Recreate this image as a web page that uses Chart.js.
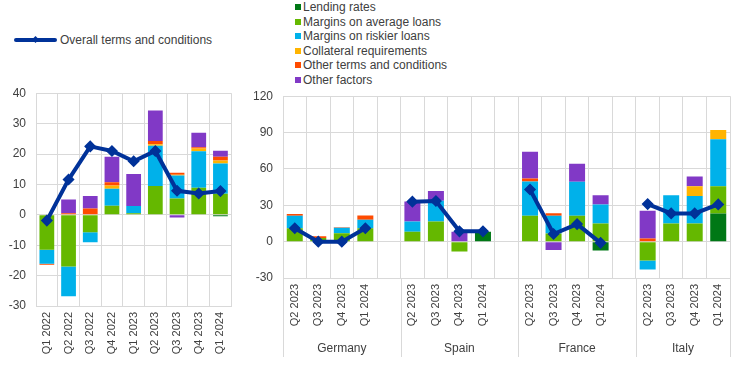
<!DOCTYPE html>
<html>
<head>
<meta charset="utf-8">
<script src="https://cdn.jsdelivr.net/npm/chart.js@4.4.1/dist/chart.umd.min.js"></script>
<style>
  body { margin: 0; background: #fff; width: 744px; height: 384px; overflow: hidden; position: relative;
         font-family: "Liberation Sans", Arial, sans-serif; color: #404040; }
  .box { position: absolute; }
  .lg-line { position: absolute; left: 14px; top: 38px; width: 43px; height: 4px; background: #003299; border-radius: 2px; }
  .lg-dia { position: absolute; left: 33px; top: 37px; width: 5px; height: 5px; background: #003299; transform: rotate(45deg); }
  .lg-text { position: absolute; font-size: 12px; white-space: nowrap; line-height: 14px; }
  .sq { position: absolute; width: 6px; height: 6px; }
</style>
</head>
<body>
<div class="lg-line"></div><div class="lg-dia"></div>
<div class="lg-text" style="left:60px; top:33px;">Overall terms and conditions</div>
<div id="barLegend"></div>
<div class="box" style="left:0; top:76px; width:240px; height:289px;"><canvas id="leftChart"></canvas></div>
<div class="box" style="left:240px; top:79px; width:504px; height:305px;"><canvas id="rightChart"></canvas></div>
<script>
// --- Dữ liệu: euro area (trái) ---
const euroLabels = ['Q1 2022', 'Q2 2022', 'Q3 2022', 'Q4 2022', 'Q1 2023', 'Q2 2023', 'Q3 2023', 'Q4 2023', 'Q1 2024'];
const euroLending = [0, 0, 0, 0, 0, 0, 0, 0, -0.5];
const euroAvgMargins = [-11.5, -17, -5.7, 3, 0.5, 9.5, 5.4, 8.9, 6.9];
const euroRiskMargins = [-4.6, -9.8, -3.3, 5.6, 2.4, 13.2, 7.5, 12, 10];
const euroCollateral = [0, 0, 0, 1, 0, 0.5, 0.3, 0.9, 1];
const euroOtherTerms = [-0.3, 0.5, 2.1, 1.1, 0, 1.1, 0.6, 0.4, 1.2];
const euroOtherFactors = [0, 4.5, 4.1, 8.4, 10.5, 10, -0.9, 4.8, 2];
const euroOverall = [-1.9, 11.6, 22.5, 21, 17.6, 21, 7.9, 7, 7.8];
const euroTicks = [-30, -20, -10, 0, 10, 20, 30, 40];

// --- Dữ liệu: các nước (phải), null = khoảng trống giữa các nhóm ---
const countries = ['Germany', 'Spain', 'France', 'Italy'];
const quarters = ['Q2 2023', 'Q3 2023', 'Q4 2023', 'Q1 2024'];
const ctryLending =       [0, 0, 0, 0,            null, 0, 0, 0, 8.2,          null, 0, 0, 0, -7.4,            null, 0, 0, 0, 23.3];
const ctryAvgMargins =    [11, 3, 7, 11,          null, 8.2, 16.7, -8.2, 0,    null, 21.4, 6.8, 21.4, 15,      null, -15.6, 15, 15, 22.5];
const ctryRiskMargins =   [10.4, 0, 4.4, 7,       null, 8.5, 17, 0, 0,         null, 28.2, 14.5, 28, 15.6,     null, -7.4, 23.3, 22.7, 38.6];
const ctryCollateral =    [0, 0, 0, 0,            null, 0, 0, 0, 0,            null, 0, 0, 0, 0,               null, 0, 0, 8, 7.7];
const ctryOtherTerms =    [1.4, 1.5, 0.5, 3.5,    null, 0, 0, 0, 0,            null, 2.5, 2.2, 0, 0,           null, 2.5, 0, 0, 0];
const ctryOtherFactors =  [0, 0, 0, 0,            null, 16.4, 8, 8.2, 0,       null, 22, -6.8, 14.8, 7.7,      null, 23, 0, 8, 0];
const ctryOverall =       [11, 0, 0, 11,          null, 33, 33.5, 8.5, 8.5,    null, 43, 6.3, 14.5, -1,        null, 31, 23.3, 23.3, 30.7];
const ctryTicks = [-30, 0, 30, 60, 90, 120];

const seriesNames = ['Lending rates', 'Margins on average loans', 'Margins on riskier loans',
                     'Collateral requirements', 'Other terms and conditions', 'Other factors'];
const seriesColors = ['#007816', '#65b800', '#00b1ea', '#ffb400', '#ff4b00', '#8139c6'];
const lineColor = '#003299';
const gridColor = '#d9d9d9';
const textColor = '#404040';

// Nhãn trục x bên phải: 4 quý mỗi nước + 1 ô trống
const ctryLabels = [];
countries.forEach(function (c, i) {
    quarters.forEach(function (q) { ctryLabels.push(q); });
    if (i < countries.length - 1) ctryLabels.push('');
});

// Chú thích cho các cột
const legendBox = document.getElementById('barLegend');
seriesNames.forEach(function (name, i) {
    const y = 7 + i * 14.6;
    legendBox.insertAdjacentHTML('beforeend',
        '<div class="sq" style="left:295px; top:' + (y - 3) + 'px; background:' + seriesColors[i] + '"></div>' +
        '<div class="lg-text" style="left:303px; top:' + (y - 7) + 'px;">' + name + '</div>');
});

Chart.defaults.font.family = '"Liberation Sans", Arial, sans-serif';
Chart.defaults.color = textColor;

function buildDatasets(parts, overall) {
    const sets = parts.map(function (data, i) {
        return {
            type: 'bar', label: seriesNames[i], data: data,
            backgroundColor: seriesColors[i], borderWidth: 0,
            stack: 'bars', order: 1,
            barPercentage: 1, categoryPercentage: 0.68
        };
    });
    sets.push({
        type: 'line', label: 'Overall terms and conditions', data: overall,
        borderColor: lineColor, backgroundColor: lineColor, borderWidth: 4,
        pointStyle: 'rectRot', pointRadius: 5, pointBorderWidth: 1.5,
        stack: 'line', order: 0, spanGaps: false, tension: 0
    });
    return sets;
}

function buildOptions(ticks, yWidth, xHeight, padRight, padTop) {
    return {
        responsive: true,
        maintainAspectRatio: false,
        animation: false,
        layout: { padding: { top: padTop, right: padRight, left: 0, bottom: 0 } },
        plugins: { legend: { display: false }, tooltip: { enabled: false } },
        scales: {
            x: {
                stacked: true,
                grid: { color: gridColor, drawTicks: false, offset: true },
                border: { color: gridColor },
                ticks: { autoSkip: false, maxRotation: 90, minRotation: 90, padding: 6, font: { size: 11 } },
                afterFit: function (scale) { scale.height = xHeight; }
            },
            y: {
                stacked: true,
                min: ticks[0], max: ticks[ticks.length - 1],
                grid: { color: gridColor, drawTicks: false },
                border: { color: gridColor },
                ticks: { stepSize: ticks[1] - ticks[0], padding: 10, font: { size: 12 } },
                afterFit: function (scale) { scale.width = yWidth; }
            }
        }
    };
}

// Vẽ tên nước và đường phân cách dưới trục x
const groupPlugin = {
    id: 'countryGroups',
    afterDraw: function (chart) {
        const xs = chart.scales.x, ctx = chart.ctx;
        const half = (xs.getPixelForValue(1) - xs.getPixelForValue(0)) / 2;
        const bottom = chart.chartArea.bottom;
        const starts = [0, 5, 10, 15];
        const ends = [4, 9, 14, 18];
        ctx.save();
        ctx.strokeStyle = gridColor;
        ctx.lineWidth = 1;
        ctx.fillStyle = textColor;
        ctx.font = '12px "Liberation Sans", Arial, sans-serif';
        ctx.textAlign = 'center';
        ctx.textBaseline = 'middle';
        countries.forEach(function (c, i) {
            const x0 = xs.getPixelForValue(starts[i]) - half;
            const x1 = xs.getPixelForValue(ends[i]) + half;
            [x0, x1].forEach(function (x) {
                ctx.beginPath();
                ctx.moveTo(Math.round(x) + 0.5, bottom);
                ctx.lineTo(Math.round(x) + 0.5, bottom + 79);
                ctx.stroke();
            });
            ctx.fillText(c, (x0 + x1) / 2, bottom + 71);
        });
        ctx.restore();
    }
};

document.addEventListener('DOMContentLoaded', function () {
    new Chart(document.getElementById('leftChart'), {
        data: {
            labels: euroLabels,
            datasets: buildDatasets([euroLending, euroAvgMargins, euroRiskMargins, euroCollateral, euroOtherTerms, euroOtherFactors], euroOverall)
        },
        options: buildOptions(euroTicks, 36, 59, 5, 7)
    });

    new Chart(document.getElementById('rightChart'), {
        data: {
            labels: ctryLabels,
            datasets: buildDatasets([ctryLending, ctryAvgMargins, ctryRiskMargins, ctryCollateral, ctryOtherTerms, ctryOtherFactors], ctryOverall)
        },
        options: buildOptions(ctryTicks, 43, 106, 14, 7),
        plugins: [groupPlugin]
    });
});
</script>
</body>
</html>
